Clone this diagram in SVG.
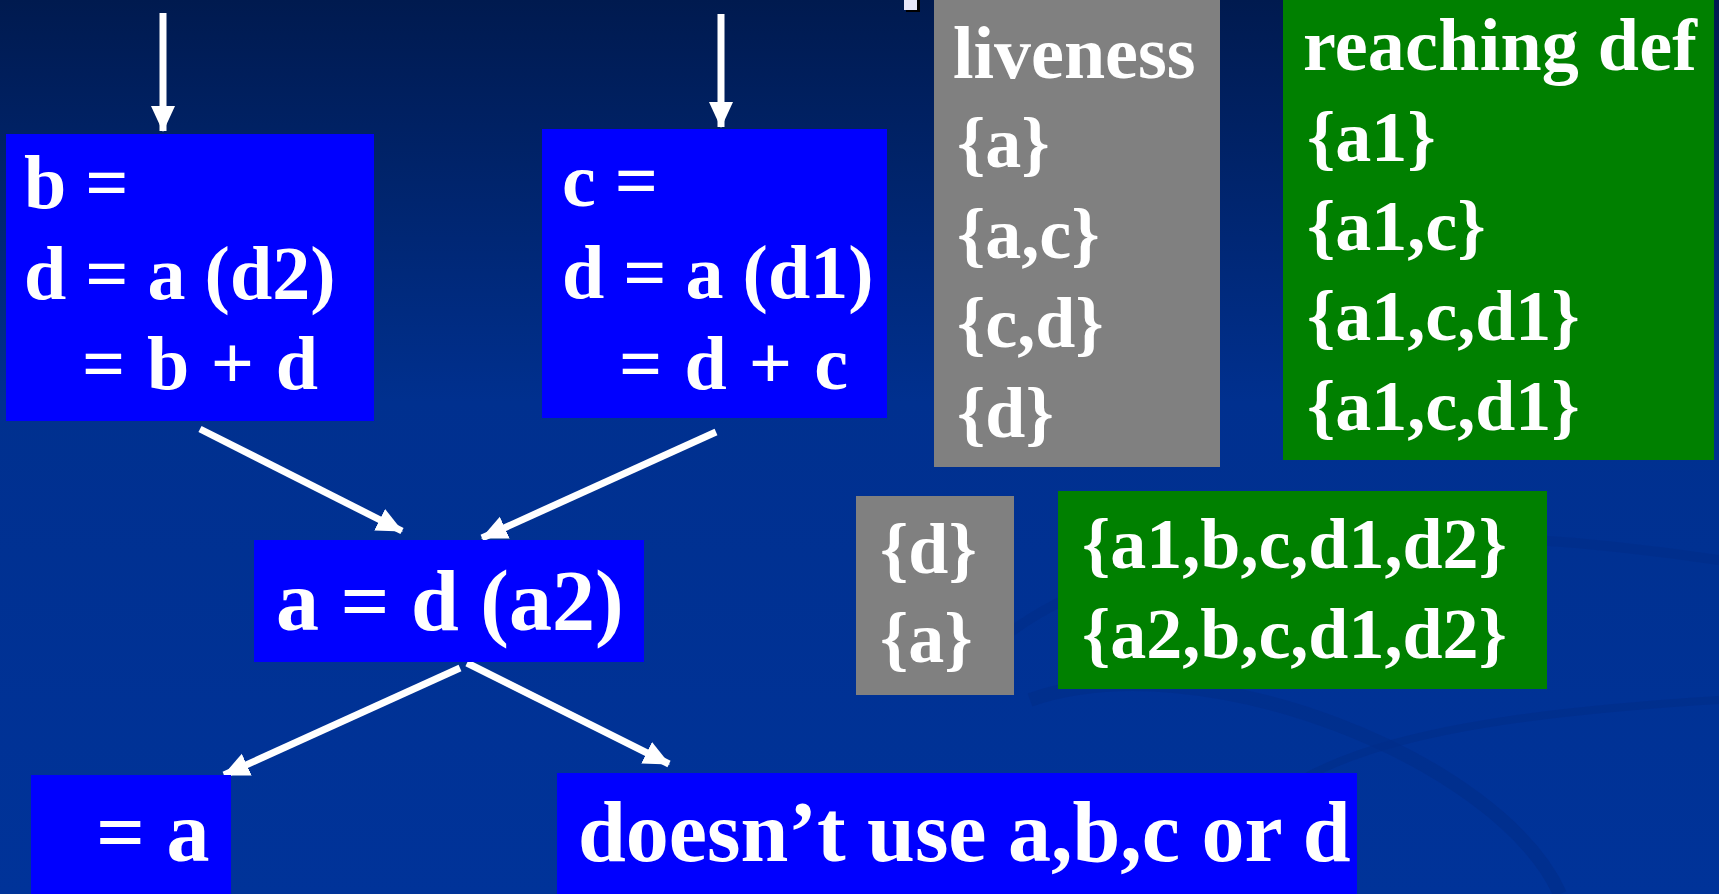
<svg xmlns="http://www.w3.org/2000/svg" width="1719" height="894" viewBox="0 0 1719 894">
<defs>
<linearGradient id="bg" x1="0" y1="0" x2="0" y2="1">
<stop offset="0" stop-color="#001a4f"/>
<stop offset="0.45" stop-color="#00308f"/>
<stop offset="1" stop-color="#003399"/>
</linearGradient>
<marker id="ah" markerUnits="userSpaceOnUse" markerWidth="26" markerHeight="26" viewBox="0 0 26 26" refX="25" refY="13" orient="auto">
<path d="M0,1 L26,13 L0,25 z" fill="#ffffff"/>
</marker>
<style>
.blk{fill:#0000ff}
.gry{fill:#808080}
.grn{fill:#008000}
text{font-family:"Liberation Serif","Times New Roman",serif;font-weight:bold;fill:#ffffff}
.t76{font-size:76px}
.t72{font-size:72px}
.t74{font-size:74px}
.t86{font-size:86px}
.edge{stroke:#ffffff;stroke-width:7;fill:none;marker-end:url(#ah)}
.swirl{fill:none;stroke:#002d88;stroke-opacity:0.6}
</style>
</defs>
<rect x="0" y="0" width="1719" height="894" fill="url(#bg)"/>
<g id="decoration">
<path class="swirl" stroke-width="10" d="M1000,640 C1150,520 1450,520 1719,560"/>
<path class="swirl" stroke-width="14" d="M1030,700 C1200,640 1500,760 1560,894"/>
<path class="swirl" stroke-width="8" d="M1200,894 C1250,760 1400,720 1719,700"/>
<rect x="906" y="0" width="14" height="12" fill="#000000"/>
<rect x="904" y="0" width="13" height="10" fill="#e8e8f8"/>
</g>
<g id="connectors">
<line class="edge" x1="163" y1="13" x2="163" y2="131"/>
<line class="edge" x1="721" y1="14" x2="721" y2="127"/>
<line class="edge" x1="200" y1="429" x2="402" y2="531"/>
<line class="edge" x1="716" y1="432" x2="482" y2="538"/>
<line class="edge" x1="460" y1="668" x2="224" y2="775"/>
<line class="edge" x1="467" y1="663" x2="669" y2="764"/>
</g>
<g id="node-b">
<rect class="blk" x="6" y="134" width="368" height="287"/>
<text class="t76" x="24" y="208">b =</text>
<text class="t76" x="24" y="299">d = a (d2)</text>
<text class="t76" x="82" y="389" textLength="236">= b + d</text>
</g>
<g id="node-c">
<rect class="blk" x="542" y="129" width="345" height="289"/>
<text class="t76" x="562" y="206">c =</text>
<text class="t76" x="562" y="298">d = a (d1)</text>
<text class="t76" x="619" y="389" textLength="229">= d + c</text>
</g>
<g id="node-a">
<rect class="blk" x="254" y="540" width="390" height="122"/>
<text class="t86" x="276" y="630">a = d (a2)</text>
</g>
<g id="node-use-a">
<rect class="blk" x="31" y="775" width="200" height="119"/>
<text class="t86" x="96" y="861">= a</text>
</g>
<g id="node-other">
<rect class="blk" x="557" y="773" width="800" height="121"/>
<text class="t86" x="578" y="861">doesn’t use a,b,c or d</text>
</g>
<g id="liveness">
<rect class="gry" x="934" y="0" width="286" height="467"/>
<text class="t74" x="953" y="78">liveness</text>
<text class="t72" x="957" y="167">{a}</text>
<text class="t72" x="957" y="258">{a,c}</text>
<text class="t72" x="957" y="347">{c,d}</text>
<text class="t72" x="957" y="437">{d}</text>
</g>
<g id="reaching-def">
<rect class="grn" x="1283" y="0" width="431" height="460"/>
<text class="t74" x="1303" y="70" textLength="394">reaching def</text>
<text class="t72" x="1307" y="161">{a1}</text>
<text class="t72" x="1307" y="250">{a1,c}</text>
<text class="t72" x="1307" y="340">{a1,c,d1}</text>
<text class="t72" x="1307" y="430">{a1,c,d1}</text>
</g>
<g id="liveness-a">
<rect class="gry" x="856" y="496" width="158" height="199"/>
<text class="t72" x="880" y="573">{d}</text>
<text class="t72" x="880" y="662">{a}</text>
</g>
<g id="reaching-def-a">
<rect class="grn" x="1058" y="491" width="489" height="198"/>
<text class="t72" x="1082" y="568">{a1,b,c,d1,d2}</text>
<text class="t72" x="1082" y="658">{a2,b,c,d1,d2}</text>
</g>
</svg>
